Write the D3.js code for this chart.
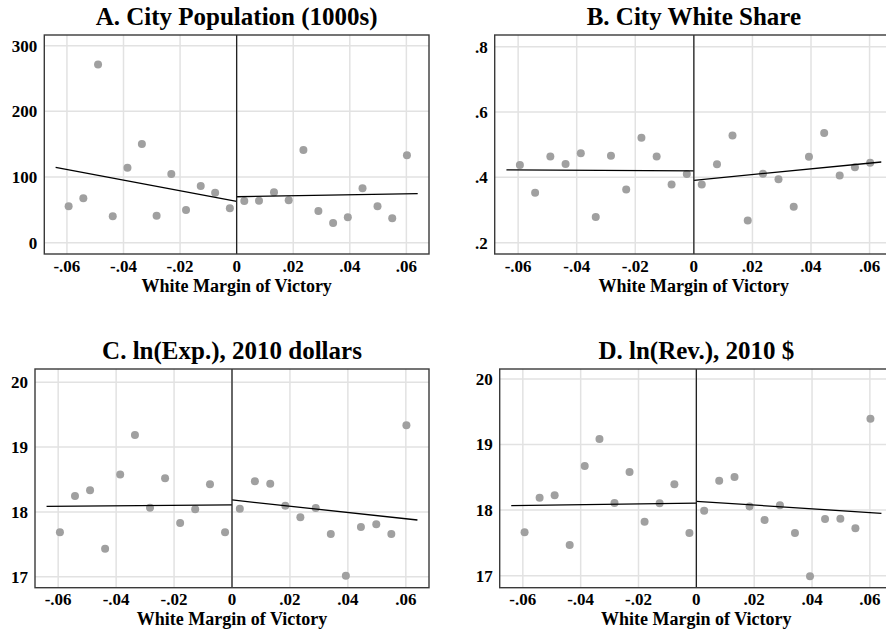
<!DOCTYPE html>
<html lang="en">
<head>
<meta charset="UTF-8">
<title>RD plots</title>
<script src="https://d3js.org/d3.v7.min.js"></script>
<style>
    body { margin: 0; background: #fff; }
    svg { display: block; }
    text { font-family: "Liberation Serif", "Times New Roman", serif; font-weight: bold; fill: #000; }
    .grid line { stroke: #e2e2e2; stroke-width: 1.5px; }
    .frame { fill: none; stroke: #3a3a3a; stroke-width: 1.4px; }
    .zero { stroke: #222; stroke-width: 1.3px; }
    .fit { fill: none; stroke: #000; stroke-width: 1.3px; }
    .dot { fill: #a0a0a0; }
</style>
</head>
<body>
<svg id="chart" width="886" height="632"></svg>
<script>
// bin centres of the white margin of victory (same for every panel)
const binX = [-0.0594, -0.0542, -0.0490, -0.0438, -0.0386, -0.0335, -0.0283, -0.0231, -0.0179, -0.0127, -0.0076, -0.0024,
              0.0027, 0.0079, 0.0132, 0.0184, 0.0236, 0.0289, 0.0341, 0.0393, 0.0445, 0.0498, 0.0550, 0.0602];

// bin means for each outcome
const popValues = [55.4, 67.6, 271.5, 40.2, 114.2, 150.2, 41.1, 104.6, 49.8, 86.3, 76.1, 52.4,
                   63.5, 63.9, 76.7, 64.5, 141.1, 48.2, 30.0, 38.7, 82.8, 55.4, 37.1, 133.0];
const whiteValues = [0.438, 0.353, 0.464, 0.441, 0.474, 0.279, 0.466, 0.363, 0.521, 0.464, 0.378, 0.410,
                     0.378, 0.440, 0.528, 0.268, 0.411, 0.394, 0.310, 0.463, 0.536, 0.406, 0.431, 0.445];
const expValues = [17.685, 18.245, 18.333, 17.432, 18.575, 19.187, 18.065, 18.518, 17.829, 18.040, 18.426, 17.685,
                   18.050, 18.472, 18.436, 18.096, 17.916, 18.060, 17.659, 17.015, 17.767, 17.808, 17.659, 19.337];
const revValues = [17.661, 18.190, 18.225, 17.468, 18.673, 19.084, 18.108, 18.581, 17.824, 18.103, 18.393, 17.651,
                   17.991, 18.449, 18.505, 18.057, 17.849, 18.073, 17.651, 16.990, 17.864, 17.869, 17.722, 19.395];

// linear fits on each side of the cutoff: [value at left end, value at 0] and [value at 0, value at right end]
const fitX = [-0.064, 0, 0.064];
const popFit = [[114.7, 63.0], [70.0, 74.6]];
const whiteFit = [[0.423, 0.420], [0.391, 0.447]];
const expFit = [[18.086, 18.107], [18.184, 17.875]];
const revFit = [[18.068, 18.108], [18.134, 17.951]];

// ticks
const xTicks = [-0.06, -0.04, -0.02, 0, 0.02, 0.04, 0.06];
const popTicks = [0, 100, 200, 300];
const whiteTicks = [0.2, 0.4, 0.6, 0.8];
const lnTicks = [17, 18, 19, 20];

const titles = ["A. City Population (1000s)", "B. City White Share", "C. ln(Exp.), 2010 dollars", "D. ln(Rev.), 2010 $"];
const xTitle = "White Margin of Victory";

const svg = d3.select("#chart");

// strip the leading zero like Stata does: .06, -.04
function stataFmt(v) {
    if (Math.abs(v) < 1e-12) return "0";
    const s = String(+v.toFixed(4));
    return s.replace(/^0\./, ".").replace(/^-0\./, "-.");
}

const panels = [
    { title: titles[0], values: popValues, fit: popFit, yTicks: popTicks, yDomain: [-17.2, 316.3],
      box: { x0: 44.3, x1: 429, y0: 35, y1: 254 } },
    { title: titles[1], values: whiteValues, fit: whiteFit, yTicks: whiteTicks, yDomain: [0.1654, 0.8358],
      box: { x0: 494.7, x1: 893, y0: 35, y1: 254 } },
    { title: titles[2], values: expValues, fit: expFit, yTicks: lnTicks, yDomain: [16.830, 20.205],
      box: { x0: 35, x1: 429, y0: 369, y1: 587.7 } },
    { title: titles[3], values: revValues, fit: revFit, yTicks: lnTicks, yDomain: [16.817, 20.152],
      box: { x0: 499.7, x1: 893, y0: 369, y1: 587.7 } }
];

panels.forEach(p => {
    const b = p.box;
    const x = d3.scaleLinear().domain([-0.068, 0.068]).range([b.x0, b.x1]);
    const y = d3.scaleLinear().domain(p.yDomain).range([b.y1, b.y0]);
    const g = svg.append("g");

    // grid
    const grid = g.append("g").attr("class", "grid");
    grid.selectAll(".gx").data(xTicks).join("line")
        .attr("class", "gx")
        .attr("x1", d => x(d)).attr("x2", d => x(d))
        .attr("y1", b.y0).attr("y2", b.y1);
    grid.selectAll(".gy").data(p.yTicks).join("line")
        .attr("class", "gy")
        .attr("x1", b.x0).attr("x2", b.x1)
        .attr("y1", d => y(d)).attr("y2", d => y(d));

    // points
    g.selectAll(".dot").data(binX.map((bx, i) => [bx, p.values[i]])).join("circle")
        .attr("class", "dot")
        .attr("cx", d => x(d[0])).attr("cy", d => y(d[1])).attr("r", 4);

    // fit lines
    const line = d3.line().x(d => x(d[0])).y(d => y(d[1]));
    g.append("path").attr("class", "fit")
        .attr("d", line([[fitX[0], p.fit[0][0]], [fitX[1], p.fit[0][1]]]));
    g.append("path").attr("class", "fit")
        .attr("d", line([[fitX[1], p.fit[1][0]], [fitX[2], p.fit[1][1]]]));

    // cutoff line
    g.append("line").attr("class", "zero")
        .attr("x1", x(0)).attr("x2", x(0)).attr("y1", b.y0).attr("y2", b.y1);

    // frame
    g.append("rect").attr("class", "frame")
        .attr("x", b.x0).attr("y", b.y0)
        .attr("width", b.x1 - b.x0).attr("height", b.y1 - b.y0);

    // y tick labels
    g.selectAll(".yl").data(p.yTicks).join("text")
        .attr("class", "yl")
        .attr("x", b.x0 - 7).attr("y", d => y(d))
        .attr("dy", "0.35em").attr("text-anchor", "end")
        .style("font-size", "17px")
        .text(stataFmt);

    // x tick labels
    g.selectAll(".xl").data(xTicks).join("text")
        .attr("class", "xl")
        .attr("x", d => x(d)).attr("y", b.y1 + 17.5)
        .attr("text-anchor", "middle")
        .style("font-size", "17px")
        .text(stataFmt);

    // axis title
    g.append("text")
        .attr("x", (b.x0 + b.x1) / 2).attr("y", b.y1 + 37.5)
        .attr("text-anchor", "middle")
        .style("font-size", "18px")
        .text(xTitle);

    // panel title
    g.append("text")
        .attr("x", (b.x0 + b.x1) / 2).attr("y", b.y0 - 10)
        .attr("text-anchor", "middle")
        .style("font-size", "25px")
        .text(p.title);
});
</script>
</body>
</html>
